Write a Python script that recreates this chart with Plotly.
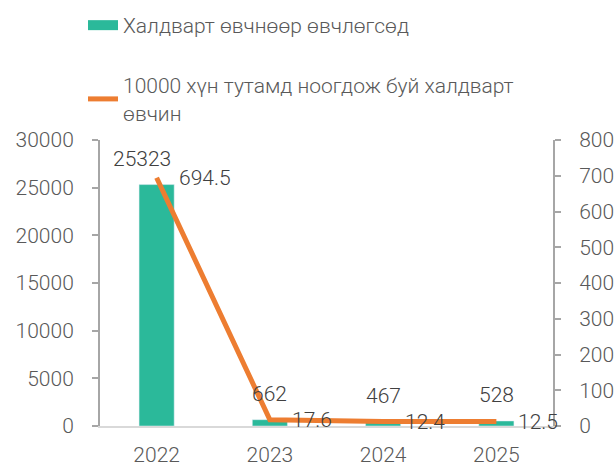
import plotly.graph_objects as go

years = [2022, 2023, 2024, 2025]
cases = [25323, 662, 467, 528]
rate = [694.5, 17.6, 12.4, 12.5]
rate_labels = ["694.5", "17.6", "12.4", "12.5"]
bar_name = "Халдварт өвчнөөр өвчлөгсөд"
line_name = "10000 хүн тутамд ноогдож буй халдварт<br>өвчин"

TEAL = "#2BB99A"
ORANGE = "#ED7D31"
GRAY = "#595959"
FONT = dict(family="Roboto", size=21, color=GRAY, weight=300)
LBLFONT = dict(family="Roboto", size=21, color="#404040", weight=300)

fig = go.Figure()
fig.add_trace(go.Bar(x=years, y=cases, marker_color=TEAL, width=0.31,
                     showlegend=False, yaxis="y"))
# legend entry for bars (wide rectangle swatch)
fig.add_trace(go.Scatter(x=[None], y=[None], mode="lines", name=bar_name,
                         line=dict(color=TEAL, width=13), legend="legend"))
fig.add_trace(go.Scatter(x=years, y=rate, mode="lines", name=line_name,
                         line=dict(color=ORANGE, width=5), yaxis="y2",
                         legend="legend2"))

for i, (yr, v) in enumerate(zip(years, cases)):
    fig.add_annotation(x=yr, y=v, xref="x", yref="y", text=str(v), showarrow=False,
                       yshift=26, xshift=-15 if i == 0 else 0, font=LBLFONT)

for yr, v, lbl in zip(years, rate, rate_labels):
    fig.add_annotation(x=yr, y=v, xref="x", yref="y2", text=lbl, showarrow=False,
                       xanchor="left", xshift=20, font=LBLFONT)

fig.update_layout(
    width=615, height=465,
    margin=dict(l=100, r=62, t=140, b=39, autoexpand=False),
    paper_bgcolor="white", plot_bgcolor="white",
    font=FONT,
    xaxis=dict(range=[2021.5, 2025.5], tickvals=years, ticktext=[str(y) for y in years],
               showgrid=False, showline=True, linecolor="#D9D9D9",
               linewidth=2, ticks="", ticklabelstandoff=9, tickfont=FONT, zeroline=False),
    yaxis=dict(range=[0, 30000], dtick=5000, tickformat="d", showgrid=False, showline=True,
               linecolor="#A6A6A6", linewidth=2, ticks="outside", ticklen=6,
               tickcolor="#A6A6A6", tickwidth=2, tickfont=FONT, ticklabelstandoff=14,
               zeroline=False),
    yaxis2=dict(range=[0, 800], dtick=100, tickformat="d", overlaying="y", side="right",
                showgrid=False, showline=True, linecolor="#A6A6A6", linewidth=2,
                ticks="outside", ticklen=6, tickcolor="#A6A6A6", tickwidth=2,
                tickfont=FONT, ticklabelstandoff=14, zeroline=False),
    legend=dict(x=83 / 615, y=1 - 5 / 465, xref="container", yref="container",
                xanchor="left", yanchor="top", font=FONT, bgcolor="rgba(0,0,0,0)"),
    legend2=dict(x=83 / 615, y=0.86, xref="container", yref="container", xanchor="left",
                 yanchor="top", font=FONT, bgcolor="rgba(0,0,0,0)"),
)

fig.write_html("out.html", config={"displayModeBar": False},
               post_script="document.body.style.margin='0';")
